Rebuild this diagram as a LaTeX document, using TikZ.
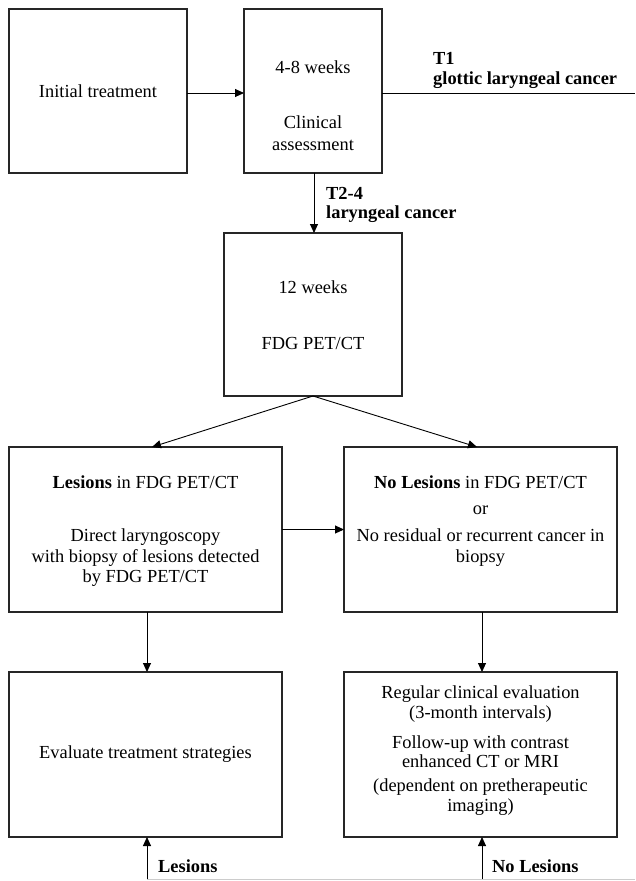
\documentclass[tikz,border=0pt]{standalone}
\usepackage{fontspec}
\setmainfont{Liberation Serif}
\usetikzlibrary{arrows.meta,calc}
\newcommand\fsz{\fontsize{18.4}{20}\selectfont}
\begin{document}
\begin{tikzpicture}[x=1pt,y=-1pt,
  box/.style={draw=black!85,line width=1.4pt,inner sep=0pt,outer sep=0pt},
  txt/.style={anchor=base,inner sep=0pt,font=\fsz},
  ltxt/.style={anchor=base west,inner sep=0pt,font=\fsz\bfseries},
  conn/.style={draw=black,line width=0.9pt,-{Triangle[length=9pt,width=8pt]}},
  plain/.style={draw=black,line width=0.9pt}]
\useasboundingbox (0,0) rectangle (635,881);
\fill[white] (0,0) rectangle (635,881);
% boxes
\node[box,minimum width=178pt,minimum height=164pt] (b1) at (98,91) {};
\node[box,minimum width=138pt,minimum height=164pt] (b2) at (313,91) {};
\node[box,minimum width=178pt,minimum height=163pt] (b3) at (313,314.5) {};
\node[box,minimum width=273pt,minimum height=165pt] (b4) at (145.5,529.5) {};
\node[box,minimum width=273pt,minimum height=165pt] (b5) at (480.5,529.5) {};
\node[box,minimum width=273pt,minimum height=165pt] (b6) at (145.5,754.5) {};
\node[box,minimum width=273pt,minimum height=165pt] (b7) at (480.5,754.5) {};
% texts
\node[txt] (t1) at (98,97) {Initial treatment};
\node[txt] (t2a) at (313,73) {4-8 weeks};
\node[txt] (t2b) at (313,128) {Clinical};
\node[txt] (t2c) at (313,150) {assessment};
\node[ltxt] (l1a) at (433,64) {T1};
\node[ltxt] (l1b) at (433,84) {glottic laryngeal cancer};
\node[ltxt] (l2a) at (326,199) {T2-4};
\node[ltxt] (l2b) at (326,218) {laryngeal cancer};
\node[txt] (t3a) at (313,293) {12 weeks};
\node[txt] (t3b) at (313,349) {FDG PET/CT};
\node[txt] (t4a) at (145.5,488) {\textbf{Lesions} in FDG PET/CT};
\node[txt] (t4b) at (145.5,541) {Direct laryngoscopy};
\node[txt] (t4c) at (145.5,562) {with biopsy of lesions detected};
\node[txt] (t4d) at (145.5,582) {by FDG PET/CT};
\node[txt] (t5a) at (480.5,488) {\textbf{No Lesions} in FDG PET/CT};
\node[txt] (t5b) at (480.5,514) {or};
\node[txt] (t5c) at (480.5,541) {No residual or recurrent cancer in};
\node[txt] (t5d) at (480.5,562) {biopsy};
\node[txt] (t6) at (145.5,758) {Evaluate treatment strategies};
\node[txt] (t7a) at (480.5,698) {Regular clinical evaluation};
\node[txt] (t7b) at (480.5,718) {(3-month intervals)};
\node[txt] (t7c) at (480.5,748) {Follow-up with contrast};
\node[txt] (t7d) at (480.5,767) {enhanced CT or MRI};
\node[txt] (t7e) at (480.5,791) {(dependent on pretherapeutic};
\node[txt] (t7f) at (480.5,811) {imaging)};
\node[ltxt] (l6) at (158,872) {Lesions};
\node[ltxt] (l7) at (492,872) {No Lesions};
% coordinates
\coordinate (t1end) at (635,93);
\coordinate (a4) at (152,447);
\coordinate (a5) at (477,447);
\coordinate (f6) at (147,879);
\coordinate (f7) at (482,879);
\coordinate (fend) at (635,879);
% connectors
\draw[conn] ([yshift=-2pt]b1.east) -- ([yshift=-2pt]b2.west);
\draw[plain] ([yshift=-2pt]b2.east) -- (t1end);
\draw[conn] ([xshift=1pt]b2.south) -- ([xshift=1pt]b3.north);
\draw[conn] (b3.south) -- (a4);
\draw[conn] (b3.south) -- (a5);
\draw[conn] (b4.east) -- (b5.west);
\draw[conn] ([xshift=1.5pt]b4.south) -- ([xshift=1.5pt]b6.north);
\draw[conn] ([xshift=1.5pt]b5.south) -- ([xshift=1.5pt]b7.north);
\draw[draw=black!20,line width=0.8pt] (f6) -- (fend);
\draw[conn] (f6) -- ([xshift=1.5pt]b6.south);
\draw[conn] (f7) -- ([xshift=1.5pt]b7.south);
\end{tikzpicture}
\end{document}
